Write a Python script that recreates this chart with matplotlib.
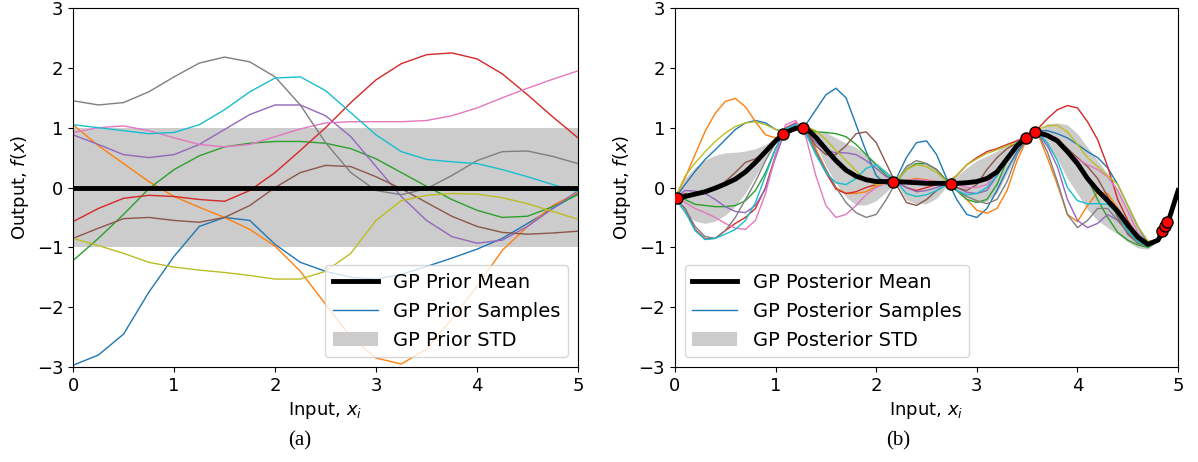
import numpy as np
import matplotlib
matplotlib.use("Agg")
import matplotlib.pyplot as plt

# ---- (a) prior: x grid every 0.25 ----
prior_x = np.linspace(0, 5, 21)
prior_mean = np.zeros(21)
prior_std = np.ones(21)

prior_blue = [-2.97, -2.8, -2.45, -1.75, -1.15, -0.65, -0.5, -0.55, -0.95, -1.25, -1.4,
              -1.5, -1.53, -1.45, -1.32, -1.18, -1.03, -0.85, -0.6, -0.35, -0.1]
prior_orange = [1.05, 0.7, 0.4, 0.1, -0.15, -0.33, -0.5, -0.7, -0.98, -1.4, -1.95,
                -2.5, -2.85, -2.95, -2.7, -2.2, -1.65, -1.05, -0.65, -0.3, -0.08]
prior_green = [-1.22, -0.85, -0.45, -0.02, 0.3, 0.53, 0.68, 0.74, 0.77, 0.77, 0.74,
               0.65, 0.48, 0.25, 0.02, -0.2, -0.38, -0.5, -0.48, -0.32, -0.12]
prior_red = [-0.57, -0.35, -0.18, -0.13, -0.15, -0.2, -0.23, -0.05, 0.25, 0.62, 1.0,
             1.42, 1.8, 2.07, 2.22, 2.25, 2.15, 1.9, 1.55, 1.18, 0.83]
prior_purple = [0.88, 0.72, 0.55, 0.5, 0.55, 0.72, 0.97, 1.22, 1.38, 1.38, 1.2,
                0.85, 0.35, -0.15, -0.55, -0.82, -0.93, -0.88, -0.65, -0.35, -0.05]
prior_brown = [-0.85, -0.68, -0.52, -0.5, -0.55, -0.58, -0.5, -0.3, 0.0, 0.25, 0.37,
               0.35, 0.18, -0.02, -0.25, -0.48, -0.65, -0.75, -0.78, -0.76, -0.73]
prior_pink = [0.92, 1.0, 1.03, 0.95, 0.83, 0.72, 0.68, 0.72, 0.85, 0.98, 1.08,
              1.1, 1.1, 1.1, 1.12, 1.2, 1.33, 1.5, 1.66, 1.81, 1.95]
prior_grey = [1.45, 1.38, 1.42, 1.6, 1.85, 2.08, 2.18, 2.1, 1.85, 1.38, 0.75,
              0.25, -0.05, -0.12, -0.02, 0.2, 0.45, 0.6, 0.61, 0.52, 0.4]
prior_olive = [-0.85, -0.97, -1.1, -1.25, -1.33, -1.38, -1.42, -1.47, -1.53, -1.53, -1.4,
               -1.1, -0.55, -0.22, -0.13, -0.1, -0.11, -0.17, -0.27, -0.4, -0.53]
prior_cyan = [1.05, 1.0, 0.95, 0.9, 0.92, 1.05, 1.3, 1.6, 1.83, 1.85, 1.62,
              1.25, 0.88, 0.6, 0.47, 0.43, 0.4, 0.3, 0.18, 0.05, -0.07]

# ---- (b) posterior: x grid every 0.1 ----
post_x = np.linspace(0, 5, 51)
post_mean = [-0.18, -0.15, -0.11, -0.07, -0.01, 0.06, 0.14, 0.26, 0.42, 0.6,
             0.78, 0.92, 0.99, 1.0, 0.84, 0.64, 0.45, 0.29, 0.19, 0.13,
             0.1, 0.1, 0.1, 0.09, 0.08, 0.07, 0.07, 0.07, 0.07, 0.08,
             0.1, 0.15, 0.26, 0.48, 0.7, 0.85, 0.92, 0.87, 0.78, 0.6,
             0.4, 0.15, -0.05, -0.22, -0.4, -0.63, -0.83, -0.95, -0.88, -0.58, -0.05]
post_std = [0.02, 0.3, 0.45, 0.53, 0.55, 0.52, 0.45, 0.35, 0.23, 0.12,
            0.05, 0.01, 0.03, 0.02, 0.12, 0.28, 0.38, 0.45, 0.48, 0.42,
            0.32, 0.17, 0.02, 0.3, 0.35, 0.34, 0.25, 0.05, 0.12, 0.25,
            0.35, 0.38, 0.35, 0.25, 0.12, 0.02, 0.02, 0.2, 0.3, 0.45,
            0.5, 0.52, 0.5, 0.45, 0.38, 0.28, 0.18, 0.08, 0.02, 0.01, 0.05]

obs_x = [0.02, 1.07, 1.27, 2.17, 2.74, 3.49, 3.58, 4.84, 4.87, 4.89]
obs_y = [-0.18, 0.9, 1.0, 0.1, 0.06, 0.83, 0.92, -0.73, -0.65, -0.58]

post_blue = [-0.18, 0.05, 0.27, 0.47, 0.63, 0.8, 0.97, 1.08, 1.12, 1.08,
             0.97, 0.92, 1.0, 1.05, 1.3, 1.55, 1.66, 1.5, 1.05, 0.6,
             0.2, 0.05, 0.15, 0.5, 0.75, 0.78, 0.55, 0.15, -0.2, -0.45,
             -0.5, -0.35, -0.05, 0.3, 0.6, 0.83, 0.95, 0.95, 0.9, 0.83,
             0.72, 0.6, 0.5, 0.33, 0.05, -0.3, -0.65, -0.93, -0.88, -0.58, -0.05]
post_orange = [-0.18, 0.16, 0.55, 0.94, 1.24, 1.44, 1.49, 1.35, 1.1, 0.88,
               0.83, 0.93, 1.0, 0.97, 0.65, 0.3, 0.0, -0.1, -0.1, -0.07,
               0.02, 0.08, 0.1, 0.12, 0.15, 0.13, 0.1, 0.07, -0.05, -0.2,
               -0.38, -0.43, -0.35, -0.05, 0.45, 0.82, 0.93, 0.5, 0.05, -0.45,
               -0.57, -0.3, -0.08, -0.1, -0.35, -0.65, -0.88, -0.98, -0.9, -0.58, -0.03]
post_green = [-0.18, -0.2, -0.28, -0.3, -0.32, -0.32, -0.3, -0.22, -0.05, 0.25,
              0.65, 0.95, 1.03, 1.0, 0.93, 0.92, 0.9, 0.85, 0.72, 0.55,
              0.38, 0.2, 0.1, 0.3, 0.4, 0.4, 0.3, 0.12, -0.05, -0.2,
              -0.25, -0.2, 0.05, 0.45, 0.75, 0.85, 0.93, 0.9, 0.8, 0.65,
              0.45, 0.15, -0.2, -0.5, -0.75, -0.88, -0.96, -1.0, -0.9, -0.58, -0.07]
post_red = [-0.18, -0.35, -0.7, -0.86, -0.85, -0.72, -0.6, -0.5, -0.35, 0.0,
            0.55, 1.0, 1.08, 0.95, 0.6, 0.25, -0.03, -0.1, -0.07, 0.0,
            0.05, 0.08, 0.1, 0.0, -0.05, 0.0, 0.05, 0.07, 0.2, 0.38,
            0.5, 0.6, 0.65, 0.72, 0.78, 0.85, 0.97, 1.15, 1.3, 1.37,
            1.33, 1.1, 0.8, 0.35, -0.2, -0.55, -0.82, -0.95, -0.88, -0.58, -0.05]
post_purple = [-0.18, -0.05, -0.06, -0.1, -0.2, -0.32, -0.4, -0.42, -0.3, -0.02,
               0.5, 0.98, 1.07, 0.95, 0.75, 0.62, 0.58, 0.58, 0.55, 0.45,
               0.32, 0.18, 0.1, 0.0, -0.07, -0.05, 0.0, 0.06, 0.0, -0.08,
               -0.1, -0.05, 0.2, 0.5, 0.75, 0.85, 0.92, 0.7, 0.35, -0.2,
               -0.55, -0.67, -0.6, -0.45, -0.55, -0.75, -0.92, -0.98, -0.88, -0.58, -0.05]
post_brown = [-0.18, -0.1, -0.12, -0.1, -0.02, 0.1, 0.25, 0.42, 0.48, 0.6,
              0.78, 0.95, 1.0, 0.95, 0.7, 0.55, 0.55, 0.7, 0.9, 0.93,
              0.75, 0.4, 0.05, -0.25, -0.3, -0.2, -0.05, 0.05, 0.0, -0.05,
              0.05, 0.3, 0.5, 0.65, 0.75, 0.84, 0.93, 0.9, 0.82, 0.65,
              0.5, 0.35, 0.15, -0.15, -0.5, -0.78, -0.93, -0.97, -0.88, -0.58, -0.05]
post_pink = [-0.18, -0.25, -0.35, -0.42, -0.5, -0.6, -0.68, -0.7, -0.55, -0.1,
             0.55, 1.05, 1.12, 0.85, 0.2, -0.3, -0.5, -0.45, -0.3, -0.12,
             0.0, 0.07, 0.1, 0.12, 0.13, 0.12, 0.1, 0.07, 0.05, 0.0,
             0.0, 0.05, 0.25, 0.5, 0.73, 0.85, 0.93, 0.85, 0.75, 0.6,
             0.48, 0.38, 0.3, 0.18, -0.05, -0.4, -0.75, -0.95, -0.88, -0.58, -0.05]
post_grey = [-0.18, -0.35, -0.65, -0.82, -0.85, -0.72, -0.5, -0.2, 0.1, 0.45,
             0.75, 0.97, 1.05, 0.95, 0.6, 0.3, 0.0, -0.25, -0.42, -0.5,
             -0.45, -0.2, 0.1, 0.35, 0.45, 0.4, 0.3, 0.1, -0.05, -0.15,
             -0.22, -0.27, -0.2, 0.1, 0.55, 0.82, 0.93, 0.6, 0.1, -0.45,
             -0.67, -0.55, -0.35, -0.35, -0.55, -0.75, -0.92, -0.98, -0.88, -0.58, -0.05]
post_olive = [-0.18, 0.19, 0.41, 0.6, 0.77, 0.91, 1.02, 1.08, 1.1, 1.05,
              0.97, 0.92, 1.0, 1.02, 0.95, 0.8, 0.62, 0.45, 0.28, 0.12,
              0.05, 0.07, 0.12, 0.3, 0.38, 0.35, 0.25, 0.1, 0.2, 0.38,
              0.48, 0.57, 0.63, 0.7, 0.75, 0.85, 0.97, 1.03, 1.04, 0.93,
              0.72, 0.5, 0.35, 0.2, 0.05, -0.3, -0.65, -0.9, -0.88, -0.58, -0.02]
post_cyan = [-0.18, -0.4, -0.72, -0.87, -0.85, -0.78, -0.7, -0.55, -0.25, 0.2,
             0.65, 0.98, 1.05, 0.9, 0.55, 0.25, 0.08, 0.05, 0.15, 0.32,
             0.38, 0.25, 0.1, -0.1, -0.15, -0.12, -0.05, 0.05, -0.05, -0.12,
             -0.1, 0.0, 0.2, 0.5, 0.75, 0.85, 0.93, 0.75, 0.45, 0.0,
             -0.22, -0.27, -0.27, -0.28, -0.45, -0.72, -0.9, -0.98, -0.88, -0.58, -0.05]

prior_samples = [prior_blue, prior_orange, prior_green, prior_red, prior_purple,
                 prior_brown, prior_pink, prior_grey, prior_olive, prior_cyan]
post_samples = [post_blue, post_orange, post_green, post_red, post_purple,
                post_brown, post_pink, post_grey, post_olive, post_cyan]

plt.rcParams['font.size'] = 13
fig = plt.figure(figsize=(11.98, 4.62), dpi=100)
ax1 = fig.add_axes([0.061, 0.2056, 0.4215, 0.777])
ax2 = fig.add_axes([0.5634, 0.2056, 0.42, 0.777])

# (a)
m = np.array(prior_mean)
s = np.array(prior_std)
ax1.fill_between(prior_x, m - s, m + s, color='0.8', lw=0, label='GP Prior STD')
for i, ys in enumerate(prior_samples):
    ax1.plot(prior_x, ys, color='C%d' % i, lw=1,
             label='GP Prior Samples' if i == 0 else None)
ax1.plot(prior_x, m, color='k', lw=3.5, label='GP Prior Mean')
h, l = ax1.get_legend_handles_labels()
order = [l.index('GP Prior Mean'), l.index('GP Prior Samples'), l.index('GP Prior STD')]
ax1.legend([h[k] for k in order], [l[k] for k in order], loc='lower right',
           fontsize=14, handlelength=2.3)

# (b)
m = np.array(post_mean)
s = np.array(post_std)
ax2.fill_between(post_x, m - s, m + s, color='0.8', lw=0, label='GP Posterior STD')
for i, ys in enumerate(post_samples):
    ax2.plot(post_x, ys, color='C%d' % i, lw=1,
             label='GP Posterior Samples' if i == 0 else None)
ax2.plot(post_x, m, color='k', lw=3.5, label='GP Posterior Mean')
ax2.plot(obs_x, obs_y, 'o', color='red', mec='k', ms=8, zorder=5)
h, l = ax2.get_legend_handles_labels()
order = [l.index('GP Posterior Mean'), l.index('GP Posterior Samples'), l.index('GP Posterior STD')]
ax2.legend([h[k] for k in order], [l[k] for k in order], loc='lower left',
           fontsize=14, handlelength=2.3)

for ax in (ax1, ax2):
    ax.set_xlim(0, 5)
    ax.set_ylim(-3, 3)
    ax.set_xlabel('Input, $x_i$')
    ax.set_ylabel('Output, $f(x)$')

fig.text(0.25, 0.035, '(a)', ha='center', family='Liberation Serif', fontsize=15)
fig.text(0.75, 0.035, '(b)', ha='center', family='Liberation Serif', fontsize=15)

fig.savefig('out.png', dpi=100)
